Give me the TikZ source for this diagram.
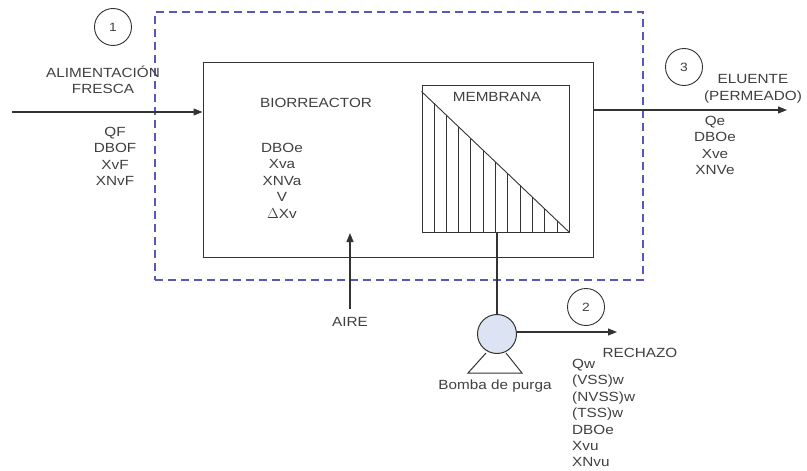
\documentclass[tikz,border=0pt]{standalone}
\usepackage{fontspec}
\setmainfont{Liberation Sans}[FakeStretch=1.15]
\usetikzlibrary{positioning, arrows.meta}
\definecolor{LineGray}{HTML}{333333}
\definecolor{TextGray}{HTML}{404040}
\definecolor{DashBlue}{HTML}{5858BA}
\definecolor{PumpBlue}{HTML}{DCE4F4}

\begin{document}
\begin{tikzpicture}[
            x=1pt, y=-1pt,
            flow/.style={draw=LineGray, line width=1.1pt, -{Triangle[length=9pt, width=7pt]}},
            pipe/.style={draw=LineGray, line width=1.1pt},
            unit/.style={draw=LineGray, line width=1pt, inner sep=0pt},
            hatch/.style={draw=LineGray, line width=0.9pt},
            tag/.style={draw=LineGray, circle, line width=0.9pt, minimum size=37pt, inner sep=0pt, text=TextGray, font=\fontsize{12}{14}\selectfont},
            lbl/.style={text=TextGray, align=center, inner sep=0pt, font=\fontsize{13.3}{16.4}\selectfont},
            vars/.style={lbl, anchor=north}
        ]
            \useasboundingbox (0,0) rectangle (807,471);

            % volumen de control
            \node[draw=DashBlue, line width=1.2pt, dash pattern=on 8pt off 5pt, minimum width=488pt, minimum height=268pt, inner sep=0pt] (cv) at (399,146) {};

            % unidades
            \node[unit, minimum width=390pt, minimum height=195pt] (bio) at (398,159.5) {};
            \node[unit, minimum width=147pt, minimum height=147pt] (memb) at (495.5,158.5) {};
            \node[unit, circle, fill=PumpBlue, minimum size=39pt] (pump) at (497,334) {};

            % membrana
            \draw[hatch] (memb.north west) ++(0,7) -- (memb.south east);
            \foreach \i in {0,...,10} {
                \pgfmathsetmacro{\hx}{434+12.3*\i}
                \pgfmathsetmacro{\hy}{92+(\hx-422)/147*140}
                \draw[hatch] (\hx,\hy) -- (\hx,232);
            }
            \draw[unit] (486,353) -- (468,373) -- (522,373) -- (506,353);

            % textos
            \node[lbl] (biolbl) at (316,103) {BIORREACTOR};
            \node[lbl] (memblbl) at (497,97) {MEMBRANA};
            \node[lbl] (feedlbl) at (103,80) {ALIMENTACIÓN\\FRESCA};
            \node[lbl] (efflbl) at (753,89) {ELUENTE\\(PERMEADO)};
            \node[lbl] (rejlbl) at (640,353) {RECHAZO};
            \node[lbl] (aire) at (350,322) {AIRE};
            \node[lbl] (pumplbl) at (495,386) {Bomba de purga};

            \node[vars] (feedvars) at (115,127) {QF\\DBOF\\XvF\\XNvF};
            \node[vars] (biovars) at (282,143) {DBOe\\Xva\\XNVa\\V\\$\Delta$Xv};
            \node[vars] (effvars) at (715,116) {Qe\\DBOe\\Xve\\XNVe};
            \node[vars, align=left, anchor=north west] (rejvars) at (572,359) {Qw\\(VSS)w\\(NVSS)w\\(TSS)w\\DBOe\\Xvu\\XNvu};

            \node[tag] (t1) at (113,27) {1};
            \node[tag] (t2) at (586,307) {2};
            \node[tag] (t3) at (684,67) {3};

            % corrientes
            \coordinate (feedin) at (12,112);
            \coordinate (effout) at (787,110);
            \coordinate (rejout) at (617,332);
            \coordinate (airein) at (350,233);
            \draw[flow] (feedin) -- (feedin -| bio.west);
            \draw[flow] (effout -| bio.east) -- (effout);
            \draw[pipe] (pump.north |- memb.south) -- (pump.north);
            \draw[flow] (rejout -| pump.east) -- (rejout);
            \draw[flow] (aire.north) ++(0,-8) -- (airein);

        \end{tikzpicture}
\end{document}
